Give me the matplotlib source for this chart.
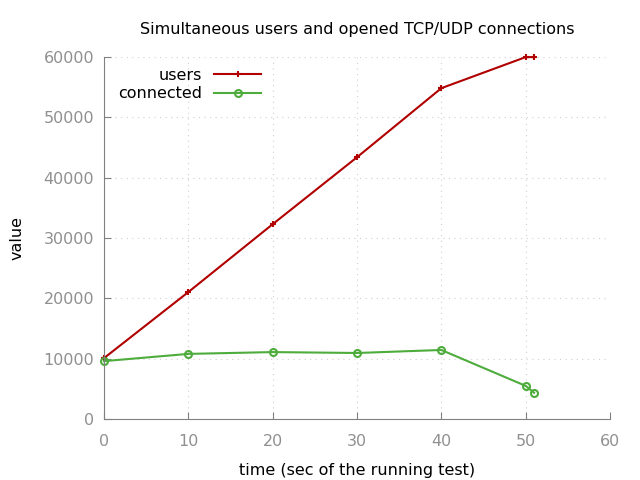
import matplotlib.pyplot as plt

time_sec = [0, 10, 20, 30, 40, 50, 51]
users = [10100, 21050, 32300, 43400, 54850, 60000, 60000]
connected = [9600, 10800, 11100, 10950, 11450, 5500, 4350]

fig = plt.figure(figsize=(6.4, 4.8), dpi=100)
ax = fig.add_axes([0.1625, 0.127, 0.7906, 0.754])

ax.plot(time_sec, users, color='#b00000', marker='+', markersize=5,
        markeredgewidth=1.5, linewidth=1.5, label='users', clip_on=False)
ax.plot(time_sec, connected, color='#4dac3c', marker='o', markersize=5,
        markerfacecolor='none', markeredgewidth=1.5, linewidth=1.5,
        label='connected', clip_on=False)

ax.set_xlim(0, 60)
ax.set_ylim(0, 60000)
ax.set_xticks(range(0, 61, 10))
ax.set_yticks(range(0, 60001, 10000))

for side in ['top', 'right']:
    ax.spines[side].set_visible(False)
for side in ['left', 'bottom']:
    ax.spines[side].set_color('#808080')
ax.tick_params(direction='in', length=5, color='#808080',
               labelcolor='#909090', labelsize=11.5)
ax.tick_params(axis='x', pad=11)
ax.tick_params(axis='y', pad=7)
ax.grid(True, linestyle=(0, (1, 4)), color='#d0d0d0', linewidth=0.8)

ax.set_title('Simultaneous users and opened TCP/UDP connections',
             fontsize=11.5, pad=17)
ax.set_xlabel('time (sec of the running test)', fontsize=11.5, labelpad=10)
ax.set_ylabel('value', fontsize=11.5, labelpad=14)

ax.legend(loc='upper left', bbox_to_anchor=(0.0, 1.01), frameon=False,
          markerfirst=False, fontsize=11.5, handlelength=3,
          labelspacing=0.22, handletextpad=0.7)

fig.savefig('out.png')
